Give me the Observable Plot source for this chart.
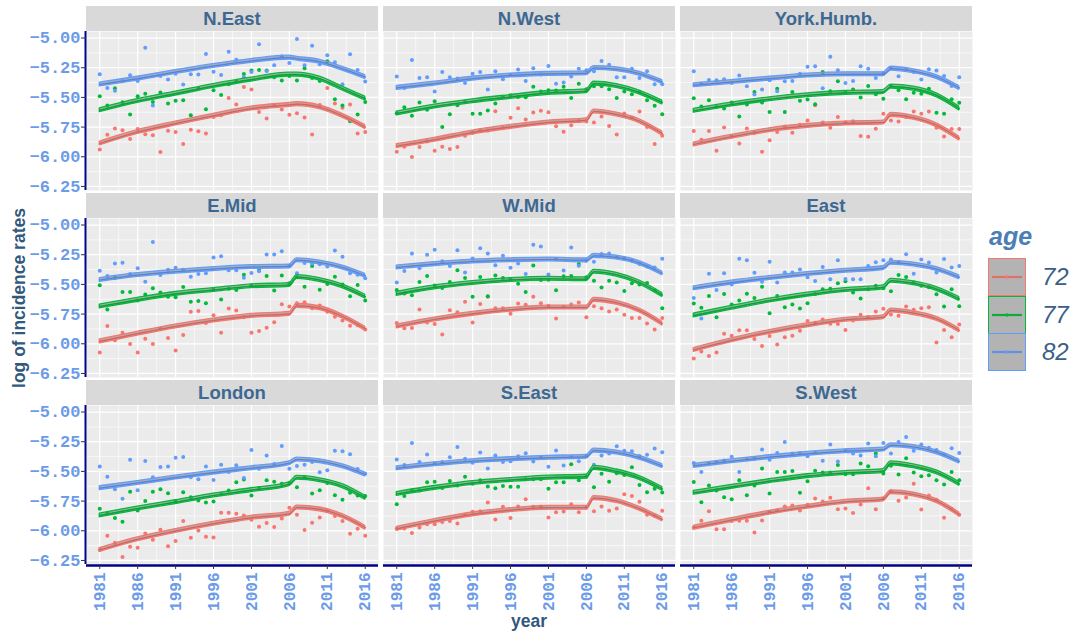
<!DOCTYPE html>
<html>
<head>
<meta charset="utf-8">
<script src="https://cdn.jsdelivr.net/npm/d3@7"></script>
<script src="https://cdn.jsdelivr.net/npm/@observablehq/plot@0.6"></script>
<style>
  html, body { margin: 0; padding: 0; background: #ffffff; }
  body { width: 1077px; height: 633px; position: relative; overflow: hidden; font-family: "Liberation Sans", Arial, sans-serif; }
  .strip { position: absolute; height: 25px; width: 292px; background: #d9d9d9; color: #3d6892; font-weight: bold; font-size: 18.5px; text-align: center; line-height: 25px; }
  .panel { position: absolute; }
  .panel svg text { font-family: "Liberation Mono", monospace; font-weight: bold; }
  .axis-title { position: absolute; color: #32587c; font-weight: bold; font-size: 17.5px; text-align: center; }
  .legend-title { position: absolute; left: 989px; top: 222px; color: #4a7eb5; font-weight: bold; font-style: italic; font-size: 25px; }
  .legend-key { position: absolute; left: 988px; width: 38px; height: 38px; }
  .legend-label { position: absolute; left: 1042px; color: #3b5f88; font-style: italic; font-size: 24px; line-height: 38px; }
</style>
</head>
<body>
<script>
// Incidence rates (log scale) by region, age group and year
const years = [1981,1982,1983,1984,1985,1986,1987,1988,1989,1990,1991,1992,1993,1994,1995,1996,1997,1998,
               1999,2000,2001,2002,2003,2004,2005,2006,2007,2008,2009,2010,2011,2012,2013,2014,2015,2016];
const fitYears = [1981,1986,1991,1996,2001,2006,2007,2010,2013,2016];
const ages = ["72","77","82"];
const ageColors = ["#F8766D","#00BA38","#619CFF"];
const regions = ["N.East","N.West","York.Humb.","E.Mid","W.Mid","East","London","S.East","S.West"];
const xTicks = [1981,1986,1991,1996,2001,2006,2011,2016];
const xMinor = [1983.5,1988.5,1993.5,1998.5,2003.5,2008.5,2013.5];
const yTicks = [-5.00,-5.25,-5.50,-5.75,-6.00,-6.25];
const yMinor = [-5.125,-5.375,-5.625,-5.875,-6.125];

// observed log incidence rates
const obsNEast72 = [-5.938,-5.815,-5.762,-5.776,-5.85,-5.767,-5.81,-5.818,-5.96,-5.78,-5.792,-5.893,-5.773,-5.784,-5.804,-5.666,-5.65,-5.504,-5.56,-5.412,-5.434,-5.622,-5.678,-5.571,-5.602,-5.647,-5.633,-5.669,-5.812,-5.563,-5.42,-5.552,-5.588,-5.56,-5.804,-5.792];
const obsNEast77 = [-5.49,-5.568,-5.423,-5.54,-5.644,-5.49,-5.47,-5.538,-5.459,-5.552,-5.529,-5.524,-5.65,-5.426,-5.6,-5.44,-5.479,-5.389,-5.364,-5.302,-5.274,-5.269,-5.274,-5.33,-5.358,-5.32,-5.358,-5.255,-5.336,-5.361,-5.196,-5.515,-5.568,-5.70,-5.644,-5.538];
const obsNEast82 = [-5.305,-5.42,-5.445,-5.364,-5.314,-5.361,-5.081,-5.568,-5.32,-5.35,-5.30,-5.392,-5.305,-5.308,-5.134,-5.283,-5.311,-5.115,-5.182,-5.328,-5.286,-5.053,-5.277,-5.23,-5.154,-5.21,-5.008,-5.23,-5.064,-5.22,-5.146,-5.204,-5.389,-5.137,-5.269,-5.367];

const obsNWest72 = [-5.958,-5.916,-6.002,-5.918,-5.871,-5.949,-5.916,-5.935,-5.918,-5.823,-5.80,-5.78,-5.778,-5.616,-5.759,-5.672,-5.591,-5.686,-5.627,-5.613,-5.624,-5.742,-5.79,-5.734,-5.70,-5.703,-5.711,-5.66,-5.74,-5.812,-5.636,-5.669,-5.619,-5.75,-5.893,-5.823];
const obsNWest77 = [-5.633,-5.582,-5.655,-5.543,-5.605,-5.532,-5.75,-5.641,-5.566,-5.538,-5.638,-5.638,-5.61,-5.552,-5.495,-5.482,-5.496,-5.498,-5.41,-5.45,-5.44,-5.442,-5.41,-5.504,-5.384,-5.431,-5.406,-5.406,-5.431,-5.504,-5.45,-5.473,-5.454,-5.524,-5.571,-5.641];
const obsNWest82 = [-5.325,-5.42,-5.185,-5.336,-5.33,-5.45,-5.286,-5.33,-5.34,-5.378,-5.30,-5.286,-5.434,-5.28,-5.347,-5.31,-5.266,-5.361,-5.255,-5.308,-5.235,-5.386,-5.375,-5.325,-5.258,-5.272,-5.28,-5.193,-5.224,-5.33,-5.33,-5.258,-5.336,-5.28,-5.389,-5.389];

const obsYork72 = [-5.782,-5.857,-5.782,-5.949,-5.753,-5.83,-5.888,-5.762,-5.80,-5.958,-5.86,-5.792,-5.745,-5.798,-5.73,-5.694,-5.566,-5.711,-5.756,-5.666,-5.71,-5.70,-5.826,-5.832,-5.764,-5.638,-5.694,-5.703,-5.665,-5.619,-5.638,-5.619,-5.756,-5.829,-5.767,-5.767];
const obsYork77 = [-5.507,-5.577,-5.524,-5.58,-5.594,-5.543,-5.661,-5.56,-5.454,-5.543,-5.622,-5.428,-5.622,-5.454,-5.529,-5.518,-5.557,-5.286,-5.448,-5.364,-5.459,-5.434,-5.501,-5.403,-5.473,-5.512,-5.403,-5.44,-5.515,-5.46,-5.47,-5.428,-5.63,-5.638,-5.515,-5.546];
const obsYork82 = [-5.28,-5.386,-5.353,-5.356,-5.347,-5.378,-5.316,-5.406,-5.476,-5.434,-5.356,-5.448,-5.364,-5.361,-5.30,-5.241,-5.238,-5.423,-5.157,-5.272,-5.378,-5.361,-5.238,-5.258,-5.336,-5.294,-5.252,-5.322,-5.266,-5.286,-5.35,-5.263,-5.274,-5.319,-5.403,-5.33];

const obsEMid72 = [-6.074,-5.851,-5.971,-5.907,-6.002,-6.074,-5.957,-6.002,-5.873,-5.951,-6.057,-5.926,-5.731,-5.723,-5.826,-5.759,-5.907,-5.703,-5.72,-5.776,-5.907,-5.893,-5.865,-5.818,-5.667,-5.686,-5.658,-5.65,-5.70,-5.678,-5.73,-5.773,-5.803,-5.848,-5.845,-5.88];
const obsEMid77 = [-5.508,-5.711,-5.446,-5.564,-5.564,-5.636,-5.586,-5.533,-5.569,-5.603,-5.608,-5.522,-5.647,-5.639,-5.658,-5.544,-5.628,-5.536,-5.547,-5.419,-5.51,-5.377,-5.43,-5.552,-5.424,-5.49,-5.44,-5.519,-5.346,-5.544,-5.497,-5.435,-5.50,-5.60,-5.505,-5.636];
const obsEMid82 = [-5.385,-5.43,-5.324,-5.318,-5.413,-5.363,-5.477,-5.142,-5.421,-5.377,-5.36,-5.377,-5.435,-5.413,-5.407,-5.273,-5.262,-5.38,-5.38,-5.444,-5.405,-5.39,-5.248,-5.248,-5.22,-5.343,-5.407,-5.32,-5.324,-5.33,-5.349,-5.215,-5.268,-5.407,-5.418,-5.449];

const obsWMid72 = [-5.826,-5.87,-5.868,-5.711,-5.82,-5.834,-5.922,-5.717,-5.734,-5.647,-5.82,-5.664,-5.603,-5.70,-5.70,-5.748,-5.661,-5.672,-5.603,-5.658,-5.68,-5.787,-5.69,-5.67,-5.653,-5.776,-5.683,-5.70,-5.728,-5.711,-5.756,-5.782,-5.782,-5.829,-5.879,-5.782];
const obsWMid77 = [-5.547,-5.577,-5.591,-5.48,-5.43,-5.51,-5.53,-5.48,-5.38,-5.446,-5.603,-5.438,-5.60,-5.424,-5.446,-5.455,-5.494,-5.564,-5.34,-5.463,-5.46,-5.55,-5.432,-5.43,-5.329,-5.44,-5.469,-5.527,-5.469,-5.485,-5.555,-5.491,-5.50,-5.488,-5.55,-5.70];
const obsWMid82 = [-5.485,-5.388,-5.24,-5.363,-5.251,-5.209,-5.304,-5.346,-5.212,-5.399,-5.282,-5.195,-5.24,-5.338,-5.259,-5.36,-5.324,-5.413,-5.167,-5.181,-5.416,-5.287,-5.382,-5.189,-5.343,-5.30,-5.31,-5.243,-5.24,-5.273,-5.282,-5.30,-5.329,-5.349,-5.357,-5.285];

const obsEast72 = [-6.124,-6.066,-6.102,-6.074,-5.915,-5.932,-5.887,-5.887,-5.96,-6.018,-5.935,-6.007,-5.946,-5.932,-5.89,-5.809,-5.823,-5.795,-5.831,-5.834,-5.884,-5.804,-5.756,-5.775,-5.728,-5.706,-5.753,-5.764,-5.686,-5.714,-5.70,-5.692,-5.99,-5.884,-5.946,-5.837];
const obsEast77 = [-5.66,-5.697,-5.597,-5.776,-5.58,-5.67,-5.636,-5.578,-5.614,-5.519,-5.742,-5.597,-5.692,-5.67,-5.703,-5.658,-5.58,-5.541,-5.536,-5.491,-5.474,-5.569,-5.619,-5.541,-5.511,-5.533,-5.558,-5.421,-5.438,-5.483,-5.511,-5.525,-5.583,-5.686,-5.541,-5.684];
const obsEast82 = [-5.614,-5.787,-5.41,-5.547,-5.407,-5.50,-5.285,-5.296,-5.402,-5.477,-5.31,-5.483,-5.399,-5.40,-5.374,-5.44,-5.472,-5.354,-5.457,-5.296,-5.455,-5.457,-5.457,-5.346,-5.313,-5.296,-5.29,-5.315,-5.246,-5.41,-5.29,-5.315,-5.399,-5.287,-5.357,-5.346];

const obsLondon72 = [-6.162,-6.042,-6.10,-6.22,-6.134,-6.142,-6.022,-6.075,-5.991,-6.131,-6.086,-5.918,-6.058,-5.997,-6.05,-6.056,-5.848,-5.848,-5.857,-5.871,-5.907,-5.966,-5.935,-5.969,-5.896,-5.806,-5.865,-5.994,-5.932,-5.888,-5.834,-5.876,-5.918,-6.025,-5.983,-6.042];
const obsLondon77 = [-5.815,-5.85,-5.893,-5.924,-5.672,-5.829,-5.75,-5.672,-5.65,-5.683,-5.756,-5.675,-5.717,-5.745,-5.762,-5.753,-5.692,-5.661,-5.591,-5.568,-5.703,-5.639,-5.574,-5.588,-5.605,-5.597,-5.633,-5.55,-5.686,-5.658,-5.597,-5.70,-5.739,-5.68,-5.703,-5.708];
const obsLondon82 = [-5.458,-5.544,-5.65,-5.731,-5.402,-5.658,-5.413,-5.55,-5.463,-5.458,-5.385,-5.379,-5.55,-5.566,-5.458,-5.572,-5.444,-5.505,-5.449,-5.555,-5.319,-5.477,-5.366,-5.437,-5.286,-5.477,-5.455,-5.444,-5.42,-5.508,-5.49,-5.327,-5.33,-5.355,-5.48,-5.52];

const obsSEast72 = [-5.983,-5.98,-6.019,-5.972,-5.946,-5.946,-5.927,-5.918,-5.938,-5.865,-5.84,-5.835,-5.762,-5.904,-5.798,-5.893,-5.795,-5.734,-5.798,-5.795,-5.888,-5.843,-5.837,-5.776,-5.843,-5.806,-5.835,-5.795,-5.832,-5.812,-5.692,-5.708,-5.756,-5.865,-5.876,-5.832];
const obsSEast77 = [-5.776,-5.708,-5.658,-5.66,-5.591,-5.588,-5.639,-5.58,-5.619,-5.544,-5.605,-5.574,-5.627,-5.641,-5.622,-5.63,-5.63,-5.566,-5.566,-5.566,-5.647,-5.591,-5.591,-5.44,-5.574,-5.545,-5.633,-5.52,-5.588,-5.516,-5.53,-5.466,-5.614,-5.675,-5.647,-5.678];
const obsSEast82 = [-5.40,-5.447,-5.26,-5.42,-5.358,-5.434,-5.42,-5.38,-5.294,-5.394,-5.428,-5.341,-5.475,-5.366,-5.42,-5.414,-5.372,-5.347,-5.416,-5.385,-5.461,-5.325,-5.45,-5.38,-5.414,-5.37,-5.444,-5.366,-5.35,-5.288,-5.327,-5.33,-5.37,-5.36,-5.308,-5.338];

const obsSWest72 = [-5.974,-5.916,-5.835,-5.988,-5.988,-5.918,-5.916,-5.916,-6.014,-5.913,-5.84,-5.829,-5.795,-5.787,-5.829,-5.78,-5.728,-5.753,-5.722,-5.818,-5.812,-5.851,-5.779,-5.641,-5.818,-5.73,-5.67,-5.748,-5.72,-5.605,-5.82,-5.703,-5.739,-5.89,-5.815,-5.865];
const obsSWest77 = [-5.59,-5.759,-5.619,-5.661,-5.717,-5.734,-5.574,-5.70,-5.619,-5.476,-5.686,-5.504,-5.506,-5.496,-5.68,-5.582,-5.494,-5.51,-5.51,-5.446,-5.524,-5.524,-5.434,-5.457,-5.35,-5.518,-5.452,-5.526,-5.389,-5.51,-5.541,-5.532,-5.574,-5.61,-5.504,-5.574];
const obsSWest82 = [-5.43,-5.506,-5.436,-5.42,-5.408,-5.377,-5.506,-5.40,-5.394,-5.316,-5.402,-5.344,-5.252,-5.35,-5.344,-5.372,-5.344,-5.41,-5.274,-5.416,-5.327,-5.35,-5.366,-5.266,-5.372,-5.26,-5.35,-5.252,-5.21,-5.327,-5.274,-5.30,-5.32,-5.36,-5.305,-5.344];

// fitted trend (values at fitYears)
const fitNEast72 = [-5.888,-5.792,-5.72,-5.655,-5.594,-5.563,-5.557,-5.583,-5.655,-5.75];
const fitNEast77 = [-5.608,-5.53,-5.468,-5.404,-5.35,-5.308,-5.308,-5.342,-5.426,-5.51];
const fitNEast82 = [-5.392,-5.342,-5.286,-5.235,-5.193,-5.165,-5.174,-5.20,-5.258,-5.328];
const fitNWest72 = [-5.91,-5.857,-5.795,-5.748,-5.711,-5.692,-5.619,-5.644,-5.70,-5.804];
const fitNWest77 = [-5.636,-5.577,-5.532,-5.496,-5.462,-5.448,-5.384,-5.404,-5.459,-5.543];
const fitNWest82 = [-5.42,-5.384,-5.342,-5.316,-5.302,-5.297,-5.252,-5.263,-5.30,-5.37];
const fitYork72 = [-5.896,-5.832,-5.776,-5.74,-5.72,-5.711,-5.647,-5.672,-5.734,-5.846];
const fitYork77 = [-5.613,-5.56,-5.515,-5.482,-5.462,-5.454,-5.409,-5.426,-5.482,-5.594];
const fitYork82 = [-5.398,-5.37,-5.342,-5.316,-5.305,-5.305,-5.258,-5.28,-5.328,-5.42];
const fitEMid72 = [-5.98,-5.915,-5.854,-5.804,-5.765,-5.748,-5.681,-5.70,-5.77,-5.873];
const fitEMid77 = [-5.686,-5.63,-5.58,-5.547,-5.516,-5.505,-5.438,-5.463,-5.516,-5.603];
const fitEMid82 = [-5.463,-5.421,-5.393,-5.371,-5.354,-5.349,-5.296,-5.315,-5.357,-5.427];
const fitWMid72 = [-5.854,-5.795,-5.748,-5.714,-5.695,-5.695,-5.63,-5.655,-5.72,-5.83];
const fitWMid77 = [-5.58,-5.525,-5.488,-5.463,-5.452,-5.457,-5.393,-5.418,-5.483,-5.589];
const fitWMid82 = [-5.357,-5.329,-5.307,-5.296,-5.29,-5.298,-5.26,-5.273,-5.32,-5.407];
const fitEast72 = [-6.052,-5.971,-5.901,-5.845,-5.798,-5.776,-5.72,-5.742,-5.79,-5.887];
const fitEast77 = [-5.762,-5.697,-5.636,-5.586,-5.547,-5.525,-5.469,-5.491,-5.538,-5.622];
const fitEast82 = [-5.533,-5.485,-5.446,-5.413,-5.385,-5.363,-5.318,-5.332,-5.371,-5.44];
const fitLondon72 = [-6.162,-6.072,-6.002,-5.941,-5.89,-5.857,-5.804,-5.82,-5.876,-5.974];
const fitLondon77 = [-5.871,-5.812,-5.759,-5.703,-5.658,-5.608,-5.554,-5.574,-5.624,-5.722];
const fitLondon82 = [-5.641,-5.597,-5.552,-5.51,-5.473,-5.431,-5.40,-5.414,-5.456,-5.526];
const fitSEast72 = [-5.983,-5.918,-5.862,-5.826,-5.806,-5.806,-5.725,-5.75,-5.815,-5.904];
const fitSEast77 = [-5.69,-5.639,-5.597,-5.572,-5.552,-5.544,-5.47,-5.50,-5.555,-5.647];
const fitSEast82 = [-5.473,-5.44,-5.414,-5.397,-5.385,-5.377,-5.325,-5.341,-5.385,-5.455];
const fitSWest72 = [-5.974,-5.91,-5.848,-5.798,-5.756,-5.736,-5.675,-5.694,-5.75,-5.862];
const fitSWest77 = [-5.68,-5.63,-5.582,-5.54,-5.513,-5.496,-5.432,-5.457,-5.508,-5.605];
const fitSWest82 = [-5.453,-5.414,-5.38,-5.352,-5.33,-5.316,-5.28,-5.294,-5.338,-5.416];

const ribbonHalfWidth = 0.016;

// series per region, in the order of `ages`
const observedSeries = [
  [obsNEast72, obsNEast77, obsNEast82], [obsNWest72, obsNWest77, obsNWest82], [obsYork72, obsYork77, obsYork82],
  [obsEMid72, obsEMid77, obsEMid82], [obsWMid72, obsWMid77, obsWMid82], [obsEast72, obsEast77, obsEast82],
  [obsLondon72, obsLondon77, obsLondon82], [obsSEast72, obsSEast77, obsSEast82], [obsSWest72, obsSWest77, obsSWest82]
];
const fittedSeries = [
  [fitNEast72, fitNEast77, fitNEast82], [fitNWest72, fitNWest77, fitNWest82], [fitYork72, fitYork77, fitYork82],
  [fitEMid72, fitEMid77, fitEMid82], [fitWMid72, fitWMid77, fitWMid82], [fitEast72, fitEast77, fitEast82],
  [fitLondon72, fitLondon77, fitLondon82], [fitSEast72, fitSEast77, fitSEast82], [fitSWest72, fitSWest77, fitSWest82]
];

// layout of the 3 x 3 grid of panels
const panelW = 292, panelH = 159, stripH = 25;
const colLeft = [86, 383, 680];
const stripTop = [6, 193, 380];
const xDomain = [1979.25, 2017.75];
const yDomain = [-6.284, -4.945];
const tickColor = "#6c9be8";
const axisLineColor = "#00008b";

regions.forEach((region, k) => {
  const row = Math.floor(k / 3), col = k % 3;
  const points = observedSeries[k].flatMap((vals, i) => vals.map((v, j) => ({year: years[j], rate: v, age: ages[i]})));
  const fits = fittedSeries[k].flatMap((vals, i) => vals.map((v, j) => ({year: fitYears[j], fit: v, age: ages[i]})));

  const strip = document.createElement("div");
  strip.className = "strip";
  strip.style.left = colLeft[col] + "px";
  strip.style.top = stripTop[row] + "px";
  strip.textContent = region;
  document.body.appendChild(strip);

  const showY = col === 0, showX = row === 2;
  const mLeft = showY ? 60 : 0, mBottom = showX ? 52 : 0;

  const marks = [
    Plot.frame({fill: "#ebebeb"}),
    Plot.gridX(xMinor, {stroke: "#ffffff", strokeOpacity: 1, strokeWidth: 0.6}),
    Plot.gridY(yMinor, {stroke: "#ffffff", strokeOpacity: 1, strokeWidth: 0.6}),
    Plot.gridX(xTicks, {stroke: "#ffffff", strokeOpacity: 1, strokeWidth: 1.2}),
    Plot.gridY(yTicks, {stroke: "#ffffff", strokeOpacity: 1, strokeWidth: 1.2}),
    Plot.dot(points, {x: "year", y: "rate", fill: "age", r: 2}),
    // confidence ribbon with coloured outline, then the trend line with a grey core
    Plot.areaY(fits, {x: "year", y1: d => d.fit - ribbonHalfWidth, y2: d => d.fit + ribbonHalfWidth, z: "age",
      fill: "#7a7a7a", fillOpacity: 0.55, stroke: "age", strokeWidth: 1.3, strokeOpacity: 1, curve: "monotone-x"}),
    Plot.line(fits, {x: "year", y: "fit", z: "age", stroke: "age", strokeWidth: 1.6, strokeOpacity: 1, curve: "monotone-x"}),
    Plot.line(fits, {x: "year", y: "fit", z: "age", stroke: "#4d4d4d", strokeWidth: 1, strokeOpacity: 0.35, curve: "monotone-x"})
  ];
  if (showY) {
    marks.push(Plot.ruleX([xDomain[0]], {stroke: axisLineColor, strokeWidth: 2, dx: -1}));
    marks.push(Plot.axisY(yTicks, {tickFormat: d3.format(".2f"), tickSize: 5, tickPadding: 1, label: null,
      fill: tickColor, stroke: "#2b2b55", fontSize: 17}));
  }
  if (showX) {
    marks.push(Plot.ruleY([yDomain[0]], {stroke: axisLineColor, strokeWidth: 2.5, dy: 1}));
    marks.push(Plot.axisX(xTicks, {tickFormat: d3.format("d"), tickRotate: -90, tickSize: 5, tickPadding: 3, label: null,
      fill: tickColor, stroke: "#333333", fontSize: 16}));
  }

  const chart = Plot.plot({
    width: panelW + mLeft,
    height: panelH + mBottom,
    marginLeft: mLeft, marginRight: 0, marginTop: 0, marginBottom: mBottom,
    x: showX ? {domain: xDomain, label: null} : {domain: xDomain, axis: null},
    y: showY ? {domain: yDomain, label: null} : {domain: yDomain, axis: null},
    color: {domain: ages, range: ageColors},
    style: {background: "transparent", overflow: "visible", fontSize: "17px"},
    marks
  });
  const wrap = document.createElement("div");
  wrap.className = "panel";
  wrap.style.left = (colLeft[col] - mLeft) + "px";
  wrap.style.top = (stripTop[row] + stripH) + "px";
  wrap.appendChild(chart);
  document.body.appendChild(wrap);
});

// axis titles
const yTitle = document.createElement("div");
yTitle.className = "axis-title";
Object.assign(yTitle.style, {left: "-131px", top: "288px", width: "300px", height: "20px", lineHeight: "20px", transform: "rotate(-90deg)"});
yTitle.textContent = "log of incidence rates";
document.body.appendChild(yTitle);

const xTitle = document.createElement("div");
xTitle.className = "axis-title";
Object.assign(xTitle.style, {left: "429px", top: "611px", width: "200px", height: "20px", lineHeight: "20px"});
xTitle.textContent = "year";
document.body.appendChild(xTitle);

// legend
const legendTitle = document.createElement("div");
legendTitle.className = "legend-title";
legendTitle.textContent = "age";
document.body.appendChild(legendTitle);

ages.forEach((age, i) => {
  const top = 258 + i * 37.7;
  const key = d3.create("svg").attr("width", 38).attr("height", 38)
    .attr("class", "legend-key").style("top", top + "px");
  key.append("rect").attr("x", 0.5).attr("y", 0.5).attr("width", 37).attr("height", 37)
    .attr("fill", "#b3b3b3").attr("stroke", ageColors[i]).attr("stroke-width", 1);
  key.append("line").attr("x1", 4).attr("x2", 34).attr("y1", 19).attr("y2", 19)
    .attr("stroke", ageColors[i]).attr("stroke-width", 2.2);
  key.append("line").attr("x1", 4).attr("x2", 34).attr("y1", 19).attr("y2", 19)
    .attr("stroke", "#555555").attr("stroke-opacity", 0.3).attr("stroke-width", 1);
  key.append("circle").attr("cx", 19).attr("cy", 19).attr("r", 1.8).attr("fill", ageColors[i]);
  document.body.appendChild(key.node());

  const label = document.createElement("div");
  label.className = "legend-label";
  label.style.top = top + "px";
  label.textContent = age;
  document.body.appendChild(label);
});
</script>
</body>
</html>
